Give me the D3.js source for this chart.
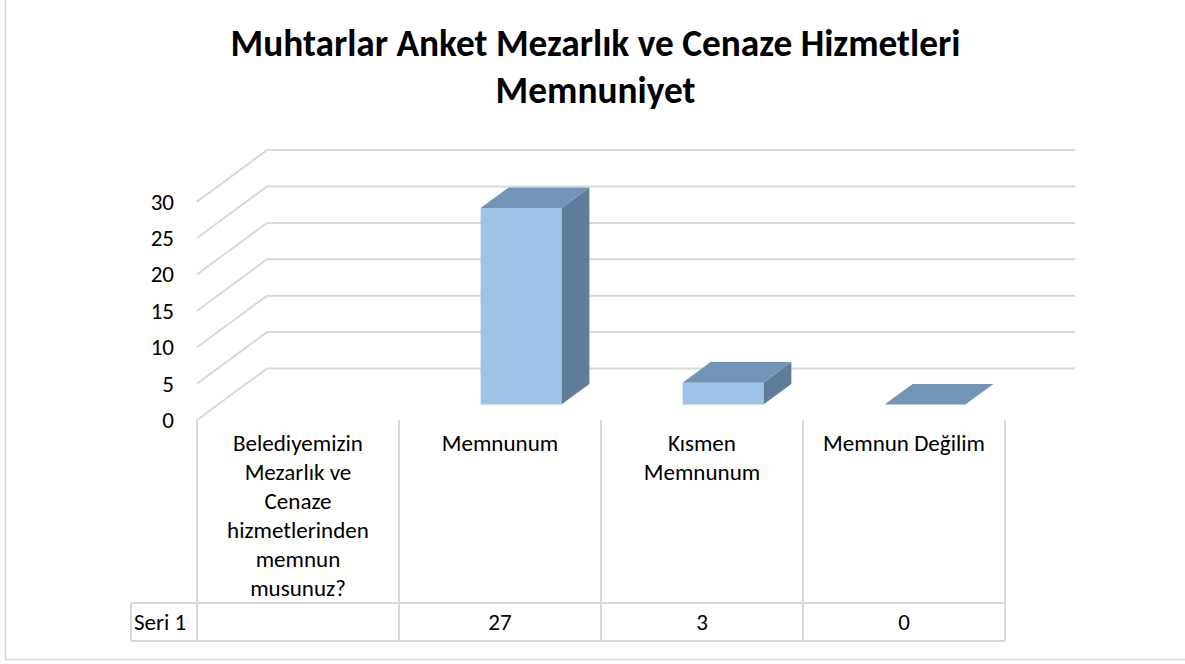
<!DOCTYPE html>
<html>
<head>
<meta charset="utf-8">
<script src="https://cdn.jsdelivr.net/npm/d3@7"></script>
<style>
  body { margin: 0; background: #fff; }
  text { font-family: Carlito, Calibri, Lato, sans-serif; fill: #000; }
</style>
</head>
<body>
<script>
// chart values
var titleLines = ["Muhtarlar Anket Mezarlık ve Cenaze Hizmetleri", "Memnuniyet"];
var categories = [
  "Belediyemizin\nMezarlık ve\nCenaze\nhizmetlerinden\nmemnun\nmusunuz?",
  "Memnunum",
  "Kısmen\nMemnunum",
  "Memnun Değilim"
];
var seriesName = "Seri 1";
var values = [null, 27, 3, 0];
var yTicks = [0, 5, 10, 15, 20, 25, 30];

//Width and height
var w = 1185;
var h = 664;

// 3d floor depth (back wall offset)
var depthX = 70, depthY = -51.5;
var barFront = 0.3, barDepth = 0.4;

var svg = d3.select("body")
            .append("svg")
            .attr("width", w)
            .attr("height", h);

// scale font so a sample string gets the wanted width
function fitSize(str, target, weight) {
  var t = svg.append("text")
      .attr("font-size", 100)
      .attr("font-weight", weight || "normal")
      .text(str);
  var len = t.node().getComputedTextLength();
  t.remove();
  return 100 * target / len;
}

var x = d3.scaleBand()
    .domain(categories)
    .range([197, 1005])
    .padding(0);

var y = d3.scaleLinear()
    .domain([0, 30])
    .range([420, 201.6]);

//outer border
svg.append("rect")
    .attr("x", 5.5)
    .attr("y", -5)
    .attr("width", 1190)
    .attr("height", 664.5)
    .attr("fill", "none")
    .attr("stroke", "#d9d9d9")
    .attr("stroke-width", 1.5);

//gridlines on side wall + back wall
svg.selectAll("path.grid")
  .data(yTicks)
  .enter().append("path")
    .attr("class", "grid")
    .attr("fill", "none")
    .attr("stroke", "#d9d9d9")
    .attr("stroke-width", 2)
    .attr("d", function(d) {
      var x0 = x.range()[0], x1 = x.range()[1], yy = y(d);
      return "M" + x0 + "," + yy +
             "L" + (x0 + depthX) + "," + (yy + depthY) +
             "L" + (x1 + depthX) + "," + (yy + depthY);
    });

var labelSize = fitSize("Belediyemizin", 125) * 1.04;

//y axis labels
svg.selectAll("text.ytick")
  .data(yTicks)
  .enter().append("text")
    .attr("class", "ytick")
    .attr("x", 174)
    .attr("y", function(d) { return y(d); })
    .attr("dy", "0.35em")
    .attr("text-anchor", "end")
    .attr("font-size", labelSize)
    .text(function(d) { return d; });

//bars
var barData = categories.map(function(c, i) { return { cat: c, value: values[i] }; })
    .filter(function(d) { return d.value != null; });

var bw = x.bandwidth() * barDepth;
var offX = barFront * depthX, offY = barFront * depthY;
var bdx = barDepth * depthX, bdy = barDepth * depthY;

var bars = svg.selectAll("g.bar")
  .data(barData)
  .enter().append("g")
    .attr("class", "bar");

function geo(d) {
  var left = x(d.cat) + (x.bandwidth() - bw) / 2 + offX;
  var bottom = y(0) + offY;
  var top = y(d.value) + offY;
  return { l: left, r: left + bw, b: bottom, t: top };
}

//side face
bars.append("path")
    .attr("fill", "#5f7d9b")
    .attr("d", function(d) {
      var g = geo(d);
      if (d.value === 0) return null;
      return "M" + g.r + "," + g.b + "L" + (g.r + bdx) + "," + (g.b + bdy) +
             "L" + (g.r + bdx) + "," + (g.t + bdy) + "L" + g.r + "," + g.t + "Z";
    });

//top face
bars.append("path")
    .attr("fill", "#7294b7")
    .attr("d", function(d) {
      var g = geo(d);
      return "M" + g.l + "," + g.t + "L" + g.r + "," + g.t +
             "L" + (g.r + bdx) + "," + (g.t + bdy) + "L" + (g.l + bdx) + "," + (g.t + bdy) + "Z";
    });

//front face
bars.append("rect")
    .attr("fill", "#9dc3e6")
    .attr("x", function(d) { return geo(d).l; })
    .attr("y", function(d) { return geo(d).t; })
    .attr("width", bw)
    .attr("height", function(d) { var g = geo(d); return g.b - g.t; });

//data table lines
var tableTop = 420, rowTop = 603, rowBottom = 641, tableLeft = 131;
var lineColor = "#d9d9d9";

var edges = [x.range()[0]].concat(categories.map(function(c) { return x(c) + x.bandwidth(); }));

svg.selectAll("line.vline")
  .data(edges)
  .enter().append("line")
    .attr("class", "vline")
    .attr("x1", function(d) { return d; })
    .attr("x2", function(d) { return d; })
    .attr("y1", tableTop)
    .attr("y2", rowBottom)
    .attr("stroke", lineColor)
    .attr("stroke-width", 2);

svg.selectAll("line.hline")
  .data([rowTop, rowBottom])
  .enter().append("line")
    .attr("class", "hline")
    .attr("x1", tableLeft)
    .attr("x2", x.range()[1])
    .attr("y1", function(d) { return d; })
    .attr("y2", function(d) { return d; })
    .attr("stroke", lineColor)
    .attr("stroke-width", 2);

svg.append("line")
    .attr("x1", tableLeft).attr("x2", tableLeft)
    .attr("y1", rowTop).attr("y2", rowBottom)
    .attr("stroke", lineColor)
    .attr("stroke-width", 2);

//category labels
var catText = svg.selectAll("text.cat")
  .data(categories)
  .enter().append("text")
    .attr("class", "cat")
    .attr("text-anchor", "middle")
    .attr("font-size", labelSize)
    .attr("x", function(d) { return x(d) + x.bandwidth() / 2; })
    .attr("y", 451);

catText.selectAll("tspan")
  .data(function(d) { return d.split("\n").map(function(s) { return { s: s, c: d }; }); })
  .enter().append("tspan")
    .attr("x", function(d) { return x(d.c) + x.bandwidth() / 2; })
    .attr("dy", function(d, i) { return i ? 29 : 0; })
    .text(function(d) { return d.s; });

//series row
svg.append("text")
    .attr("x", 134)
    .attr("y", 630)
    .attr("font-size", labelSize)
    .text(seriesName);

svg.selectAll("text.val")
  .data(categories)
  .enter().append("text")
    .attr("class", "val")
    .attr("text-anchor", "middle")
    .attr("font-size", labelSize)
    .attr("x", function(d) { return x(d) + x.bandwidth() / 2; })
    .attr("y", 630)
    .text(function(d, i) { return values[i] == null ? "" : values[i]; });

//title
var titleSize = fitSize(titleLines[0], 730, "bold");
svg.selectAll("text.title")
  .data(titleLines)
  .enter().append("text")
    .attr("class", "title")
    .attr("text-anchor", "middle")
    .attr("font-weight", "bold")
    .attr("font-size", titleSize)
    .attr("x", 595.5)
    .attr("y", function(d, i) { return 56 + i * 47; })
    .text(function(d) { return d; });
</script>
</body>
</html>
